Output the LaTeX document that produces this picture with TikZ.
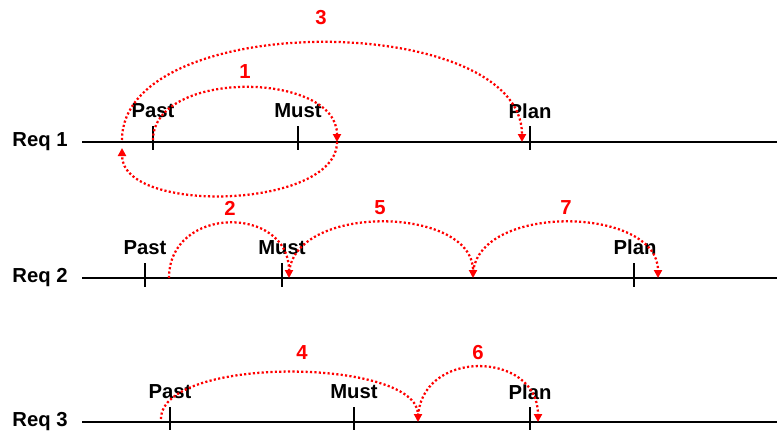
\documentclass[tikz,border=0pt]{standalone}
\usepackage{fontspec}
\setmainfont{Liberation Sans}
\usetikzlibrary{arrows.meta,calc}
\begin{document}
\begin{tikzpicture}[x=0.75pt,y=0.75pt,
 lbl/.style={font=\bfseries\fontsize{15.2}{18}\selectfont, inner sep=0pt},
 num/.style={lbl, text=red},
 axis/.style={line width=1.5pt},
 tickmark/.style={line width=1.2pt},
 hopline/.style={red, line width=1.7pt, dash pattern=on 1.6pt off 1.7pt},
 hop/.style={hopline, -{Triangle[width=6pt,length=6pt]}}]
\useasboundingbox (0,0) rectangle (777,437);

% axes
\node[lbl] (req1) at (40,295) {Req 1};
\node[lbl] (req2) at (40,159) {Req 2};
\node[lbl] (req3) at (40,15) {Req 3};
\coordinate (a1s) at (82,295); \coordinate (a1e) at (777,295);
\coordinate (a2s) at (82,159); \coordinate (a2e) at (777,159);
\coordinate (a3s) at (82,15);  \coordinate (a3e) at (777,15);
\draw[axis] (a1s) -- (a1e);
\draw[axis] (a2s) -- (a2e);
\draw[axis] (a3s) -- (a3e);

% ticks row 1
\draw[tickmark] (153,311) -- (153,287);
\draw[tickmark] (298,311) -- (298,287);
\draw[tickmark] (530,311) -- (530,287);
\node[lbl] (past1) at (153,326) {Past};
\node[lbl] (must1) at (298,326) {Must};
\node[lbl] (plan1) at (530,326) {Plan};

% ticks row 2
\draw[tickmark] (145,174) -- (145,150);
\draw[tickmark] (282,174) -- (282,150);
\draw[tickmark] (634,174) -- (634,150);
\node[lbl] (past2) at (145,189.5) {Past};
\node[lbl] (must2) at (282,189.5) {Must};
\node[lbl] (plan2) at (635,189.5) {Plan};

% ticks row 3
\draw[tickmark] (170,30) -- (170,7);
\draw[tickmark] (354,30) -- (354,7);
\draw[tickmark] (530,30) -- (530,7);
\node[lbl] (past3) at (170,45) {Past};
\node[lbl] (must3) at (354,45) {Must};
\node[lbl] (plan3) at (530,45) {Plan};

% hop end points
\coordinate (p1a) at (153,297);
\coordinate (p1b) at (337,295);
\coordinate (p2a) at (122,289);
\coordinate (p3a) at (122,297);
\coordinate (p3b) at (522,295);
\coordinate (q2a) at (169,159);
\coordinate (q2b) at (289,159);
\coordinate (q5a) at (289,161);
\coordinate (q5b) at (473,159);
\coordinate (q7a) at (473,161);
\coordinate (q7b) at (658,159);
\coordinate (r4a) at (161,18);
\coordinate (r4b) at (418,15);
\coordinate (r6a) at (418,17);
\coordinate (r6b) at (538,15);

% hops row 1
\draw[hop] (p1a) .. controls ($(p1a)+(0,71)$) and ($(p1b)+(0,71)$) .. (p1b);
\draw[hop] (p1b) .. controls ($(p1b)+(0,-67)$) and ($(p2a)+(0,-67)$) .. (p2a);
\draw[hop] (p3a) .. controls ($(p3a)+(0,131)$) and ($(p3b)+(0,131)$) .. (p3b);
\node[num] (n1) at (245,365) {1};
\node[num] (n3) at (321,419) {3};

% hops row 2
\draw[hop] (q2a) .. controls ($(q2a)+(0,73)$) and ($(q2b)+(0,73)$) .. (q2b);
\draw[hop] (q5a) .. controls ($(q5a)+(0,73)$) and ($(q5b)+(0,73)$) .. (q5b);
\draw[hop] (q7a) .. controls ($(q7a)+(0,73)$) and ($(q7b)+(0,73)$) .. (q7b);
\node[num] (n2) at (230,229) {2};
\node[num] (n5) at (380,229) {5};
\node[num] (n7) at (566,229) {7};

% hops row 3
\draw[hop] (r4a) .. controls ($(r4a)+(0,64)$) and ($(r4b)+(0,64)$) .. (r4b);
\draw[hop] (r6a) .. controls ($(r6a)+(0,72)$) and ($(r6b)+(0,72)$) .. (r6b);
\node[num] (n4) at (302,84) {4};
\node[num] (n6) at (478,84) {6};
\end{tikzpicture}
\end{document}
